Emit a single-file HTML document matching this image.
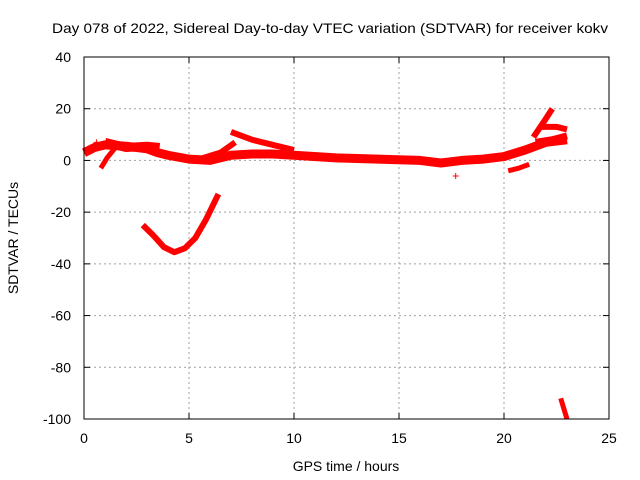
<!DOCTYPE html>
<html><head><meta charset="utf-8"><style>
body{margin:0;background:#fff;}
svg{display:block;font-family:"Liberation Sans",sans-serif;}
</style></head><body>
<svg id="chart" width="640" height="480">
<rect x="0" y="0" width="640" height="480" fill="#fff"/>
<g id="grid"></g>
<g id="series"></g>
<rect x="84" y="57" width="525" height="362" fill="none" stroke="#000" stroke-width="1"/>
<g id="ticks"></g>
<text x="52" y="33" font-size="14" textLength="556" lengthAdjust="spacingAndGlyphs">Day 078 of 2022, Sidereal Day-to-day VTEC variation (SDTVAR) for receiver kokv</text>
<text x="346" y="471" font-size="14" text-anchor="middle">GPS time / hours</text>
<text x="18" y="238" font-size="14" text-anchor="middle" transform="rotate(-90 18 238)">SDTVAR / TECUs</text>
</svg>
<script>
const xTicks=[0,5,10,15,20,25];
const yTicks=[40,20,0,-20,-40,-60,-80,-100];
const mainBand=[[0,3],[0.5,5],[1,6],[2,5.5],[3,4.5],[3.5,3],[4,2],[5,0.5],[6,0],[7,2],[8,2.5],[9,2.5],[10,2],[12,1],[14,0.5],[16,0],[17,-1],[18,0],[19,0.5],[20,1.5],[21,4],[22,7],[23,8]];
const upperBand=[[1,7],[2,5],[3,5.5],[3.6,5]];
const upperBranch=[[7,11],[8,8],[9,6],[10,4]];
const risingBranch=[[5.5,0.5],[6.5,3],[7.2,7]];
const leftDip=[[0.8,-3],[1.1,1],[1.5,5]];
const bowl=[[2.8,-25],[3.3,-29],[3.8,-33.5],[4.3,-35.5],[4.8,-34],[5.3,-30],[5.8,-23],[6.4,-13]];
const lateDip=[[20.2,-4],[20.7,-3],[21.2,-1.5]];
const lateRise=[[21.4,9],[21.9,15],[22.3,20]];
const lateUpper=[[21.8,13],[22.5,13],[23,12]];
const lateLower=[[21.5,7],[22.3,8],[23,9.5]];
const bottomSpur=[[22.7,-92],[23,-100]];
const seriesList=[["main-band",mainBand,9],["upper-band",upperBand,9],["upper-branch",upperBranch,6],["rising-branch",risingBranch,6],["left-dip",leftDip,5],["bowl-curve",bowl,6],["late-dip",lateDip,5],["late-rise",lateRise,6],["late-upper",lateUpper,6],["late-lower",lateLower,7],["bottom-spur",bottomSpur,5]];
const crosses=[[17.7,-6],[0.3,5],[0.6,7]];
const X=v=>84+v*21;
const Y=v=>57+(40-v)*362/140;
const NS="http://www.w3.org/2000/svg";
const grid=document.getElementById('grid'),ticks=document.getElementById('ticks'),ser=document.getElementById('series');
function mk(tag,attrs,parent){const e=document.createElementNS(NS,tag);for(const k in attrs)e.setAttribute(k,attrs[k]);parent.appendChild(e);return e;}
xTicks.forEach(t=>{
 if(t>0&&t<25){const g=mk('line',{x1:X(t),x2:X(t),y1:57,y2:419,stroke:'#a0a0a0','stroke-dasharray':'2,3'},grid);
 
 }
 mk('line',{x1:X(t),x2:X(t),y1:419,y2:413,stroke:'#000'},ticks);
 mk('line',{x1:X(t),x2:X(t),y1:57,y2:63,stroke:'#000'},ticks);
 const l=mk('text',{x:X(t),y:443,'font-size':14,'text-anchor':'middle'},ticks);l.textContent=t;
 
 
});
yTicks.forEach(t=>{
 if(t<40&&t>-100){const g=mk('line',{x1:84,x2:609,y1:Y(t),y2:Y(t),stroke:'#a0a0a0','stroke-dasharray':'2,3'},grid);
 
 }
 mk('line',{x1:84,x2:90,y1:Y(t),y2:Y(t),stroke:'#000'},ticks);
 mk('line',{x1:603,x2:609,y1:Y(t),y2:Y(t),stroke:'#000'},ticks);
 const l=mk('text',{x:71,y:Y(t)+5,'font-size':14,'text-anchor':'end'},ticks);l.textContent=t;
 
 
});
seriesList.forEach(s=>{
 const p=mk('polyline',{points:s[1].map(d=>X(d[0])+','+Y(d[1])).join(' '),fill:'none',stroke:'#f00','stroke-width':s[2],'stroke-linejoin':'round','stroke-linecap':'butt'},ser);
 
 
});
crosses.forEach(c=>{
 const g=mk('path',{d:`M${X(c[0])-3},${Y(c[1])}h6M${X(c[0])},${Y(c[1])-3}v6`,stroke:'#f00','stroke-width':1},ser);
 
 
});
</script>
</body></html>
